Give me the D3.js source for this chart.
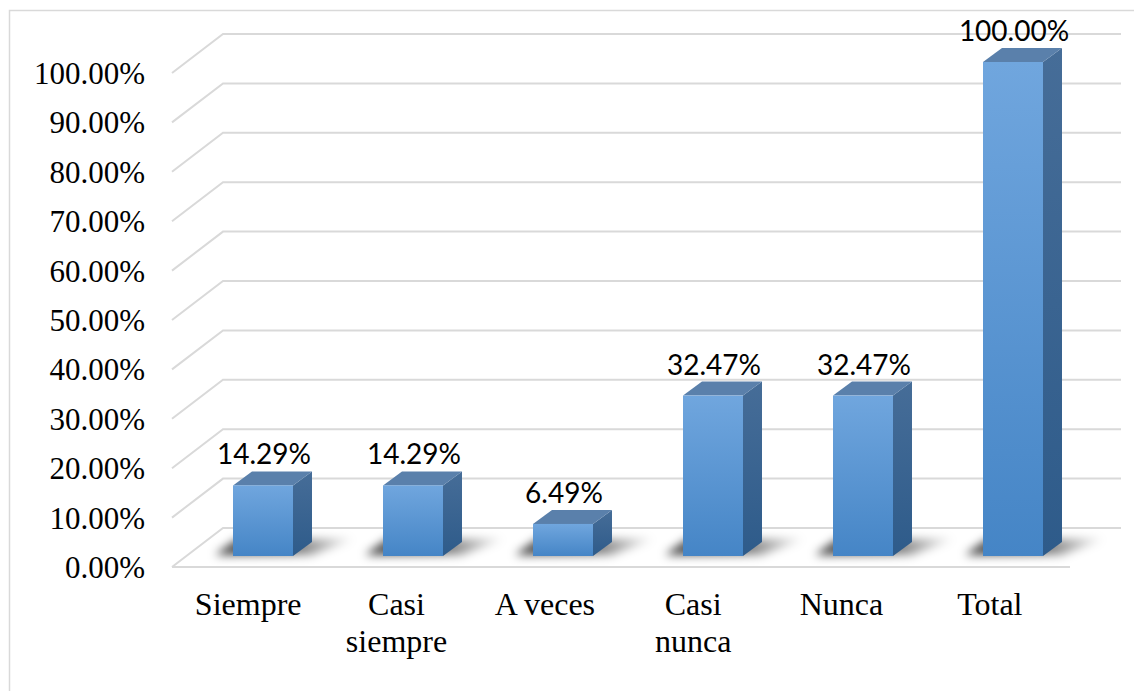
<!DOCTYPE html>
<html><head><meta charset="utf-8">
<script src="https://cdn.jsdelivr.net/npm/d3@7"></script>
<style>html,body{margin:0;padding:0;background:#fff;}svg{display:block;}
.serif{font-family:"Liberation Serif","Times New Roman",Times,serif;}
.sans{font-family:Lato,"Open Sans",sans-serif;}
</style>
</head><body>
<script>
const categories = ["Siempre", "Casi siempre", "A veces", "Casi nunca", "Nunca", "Total"];
const categoryLines = [["Siempre"], ["Casi", "siempre"], ["A veces"], ["Casi", "nunca"], ["Nunca"], ["Total"]];
const values = [14.29, 14.29, 6.49, 32.47, 32.47, 100.00];
const valueLabels = ["14.29%", "14.29%", "6.49%", "32.47%", "32.47%", "100.00%"];
const yTicks = [0, 10, 20, 30, 40, 50, 60, 70, 80, 90, 100];

const W = 1134, H = 691;
const svg = d3.select("body").append("svg").attr("width", W).attr("height", H);
const defs = svg.append("defs");

// border
svg.append("rect").attr("x", 9.5).attr("y", 10.5).attr("width", 1140).attr("height", 700)
  .attr("fill", "none").attr("stroke", "#d9d9d9").attr("stroke-width", 1.5);

// perspective geometry
const gx0 = 172, gx1 = 1070;
const pdx = 51, pdy = -39;
const yFront = d3.scaleLinear().domain([0, 100]).range([567, 73]);
const yBack = d3.scaleLinear().domain([0, 100]).range([528, 34]);
const barBase = 556;
const yBar = d3.scaleLinear().domain([0, 100]).range([barBase, barBase - 494]);

const xCat = d3.scaleBand().domain(categories).range([174, 1064]);
const xBar = d3.scaleBand().domain(categories).range([188, 1088]).paddingInner(0.6).paddingOuter(0.3);
const bdx = 19, bdy = -14;

// gridlines
const grid = svg.append("g").attr("fill", "none").attr("stroke", "#d9d9d9").attr("stroke-width", 2);
yTicks.forEach(v => {
  grid.append("path").attr("d", d3.line()([
    [gx0, yFront(v)], [gx0 + pdx, yBack(v)], [gx1 + pdx, yBack(v)]
  ]));
});
grid.append("line").attr("x1", gx0).attr("x2", gx1).attr("y1", yFront(0)).attr("y2", yFront(0));

// y labels
svg.append("g").selectAll("text").data(yTicks).join("text")
  .attr("class", "serif")
  .attr("x", 145).attr("y", d => yFront(d) + 11)
  .attr("text-anchor", "end")
  .style("font-size", "31px").attr("fill", "#000")
  .text(d => d.toFixed(2) + "%");

// gradients
const gFront = defs.append("linearGradient").attr("id", "gFront").attr("x1", 0).attr("x2", 0).attr("y1", 0).attr("y2", 1);
gFront.append("stop").attr("offset", 0).attr("stop-color", "#70a6de");
gFront.append("stop").attr("offset", 1).attr("stop-color", "#4585c6");
const gSide = defs.append("linearGradient").attr("id", "gSide").attr("x1", 0).attr("x2", 0).attr("y1", 0).attr("y2", 1);
gSide.append("stop").attr("offset", 0).attr("stop-color", "#466d98");
gSide.append("stop").attr("offset", 1).attr("stop-color", "#2e5b8a");
const gShadow = defs.append("linearGradient").attr("id", "gShadow").attr("x1", 0).attr("x2", 1).attr("y1", 0).attr("y2", 0);
gShadow.append("stop").attr("offset", 0).attr("stop-color", "#000").attr("stop-opacity", 0.75);
gShadow.append("stop").attr("offset", 0.55).attr("stop-color", "#000").attr("stop-opacity", 0.55);
gShadow.append("stop").attr("offset", 1).attr("stop-color", "#000").attr("stop-opacity", 0.05);
const blur = defs.append("filter").attr("id", "blur").attr("x", "-30%").attr("y", "-150%").attr("width", "160%").attr("height", "400%");
blur.append("feGaussianBlur").attr("stdDeviation", 5);

const bars = svg.append("g").selectAll("g").data(categories).join("g");

// shadows
bars.append("path")
  .attr("d", d => {
    const x0 = xBar(d), x1 = xBar(d) + xBar.bandwidth();
    return d3.line()([[x0 - 18, barBase - 1], [x1 + 18, barBase - 1], [x1 + bdx + 42, barBase - 17], [x0 + 4, barBase - 17]]) + "Z";
  })
  .attr("fill", "url(#gShadow)").attr("filter", "url(#blur)");

// side faces
bars.append("path")
  .attr("d", (d, i) => {
    const x1 = xBar(d) + xBar.bandwidth(), yt = yBar(values[i]);
    return d3.line()([[x1, barBase], [x1 + bdx, barBase + bdy], [x1 + bdx, yt + bdy], [x1, yt]]) + "Z";
  })
  .attr("fill", "url(#gSide)");

// top faces
bars.append("path")
  .attr("d", (d, i) => {
    const x0 = xBar(d), x1 = xBar(d) + xBar.bandwidth(), yt = yBar(values[i]);
    return d3.line()([[x0, yt], [x0 + bdx, yt + bdy], [x1 + bdx, yt + bdy], [x1, yt]]) + "Z";
  })
  .attr("fill", "#5a80ab");

// front faces
bars.append("rect")
  .attr("x", d => xBar(d))
  .attr("y", (d, i) => yBar(values[i]))
  .attr("width", xBar.bandwidth())
  .attr("height", (d, i) => barBase - yBar(values[i]))
  .attr("fill", "url(#gFront)");

// value labels
bars.append("text")
  .attr("class", "sans")
  .attr("x", d => xBar(d) + xBar.bandwidth() / 2 + 1)
  .attr("y", (d, i) => yBar(values[i]) - 21)
  .attr("text-anchor", "middle")
  .style("font-size", "28px").attr("fill", "#000")
  .text((d, i) => valueLabels[i]);

// category labels
const cat = svg.append("g").selectAll("text").data(categories).join("text")
  .attr("class", "serif")
  .attr("x", d => xCat(d) + xCat.bandwidth() / 2)
  .attr("y", 615)
  .attr("text-anchor", "middle")
  .style("font-size", "32px").attr("fill", "#000");
cat.each(function(d, i) {
  const t = d3.select(this);
  categoryLines[i].forEach((ln, j) => {
    t.append("tspan").attr("x", xCat(d) + xCat.bandwidth() / 2).attr("dy", j === 0 ? 0 : 37).text(ln);
  });
});
</script>
</body></html>
